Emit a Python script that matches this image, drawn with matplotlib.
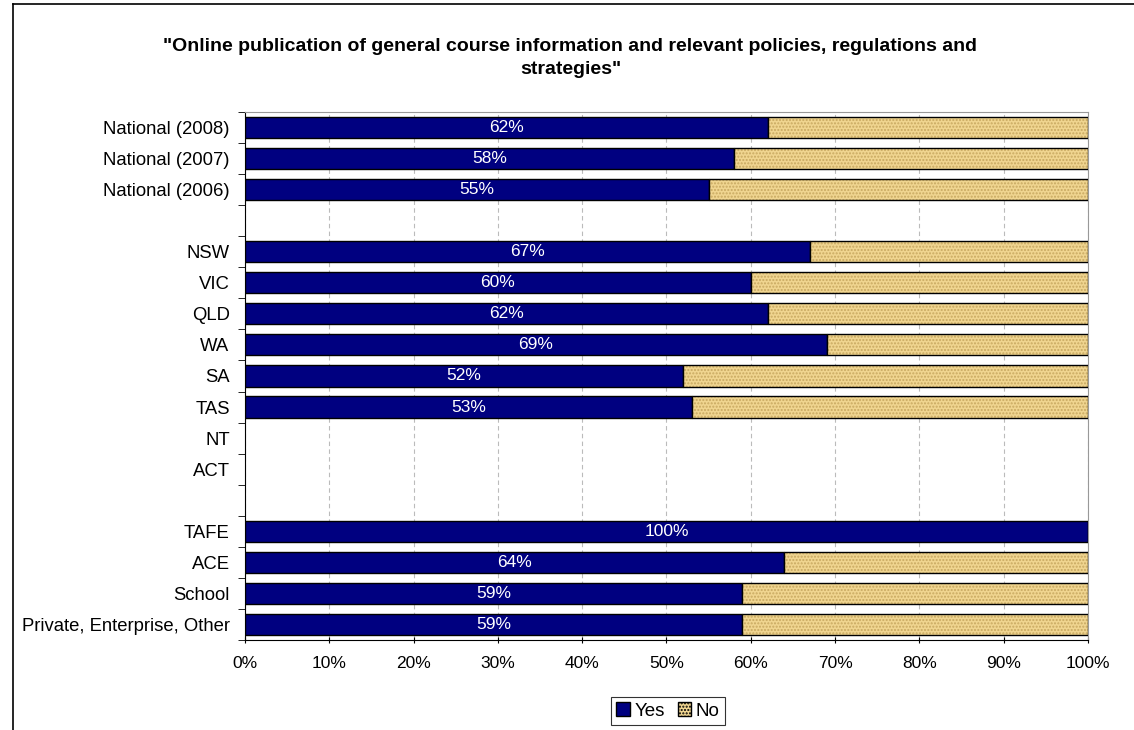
import matplotlib.pyplot as plt
import matplotlib.patches as mpatches
import numpy as np

plt.rcParams['font.family'] = ['Liberation Sans', 'DejaVu Sans']

categories = ['National (2008)', 'National (2007)', 'National (2006)', '',
              'NSW', 'VIC', 'QLD', 'WA', 'SA', 'TAS', 'NT', 'ACT', '',
              'TAFE', 'ACE', 'School', 'Private, Enterprise, Other']
yes = [62, 58, 55, None, 67, 60, 62, 69, 52, 53, None, None, None, 100, 64, 59, 59]

fig = plt.figure(figsize=(11.34, 7.30), dpi=100)
ax = fig.add_axes([0.216, 0.1233, 0.7434, 0.7233])

n = len(categories)
h = 0.68

# only rows with data get bars
rows = np.array([i for i, v in enumerate(yes) if v is not None])
yes_vals = np.array([yes[i] for i in rows], dtype=float)
no_vals = 100 - yes_vals

ax.barh(rows, yes_vals, height=h, color='#000080', edgecolor='black', linewidth=1.0, zorder=3)
# hatched "No" bars: fill with dots, then outline
ax.barh(rows, no_vals, left=yes_vals, height=h, color='#F0D590', edgecolor='#C8A860',
        hatch='.....', linewidth=0, zorder=3)
ax.barh(rows, no_vals, left=yes_vals, height=h, fill=False, edgecolor='black', linewidth=1.0, zorder=4)

for i, v in zip(rows, yes_vals):
    ax.text(v / 2, i, '%d%%' % v, color='white', ha='center', va='center', fontsize=12.5, zorder=5)

ax.set_xlim(0, 100)
ax.set_ylim(n - 0.5, -0.5)
ax.set_xticks(np.arange(0, 101, 10))
ax.set_xticklabels(['%d%%' % t for t in range(0, 101, 10)], fontsize=12.5)
ax.set_yticks(np.arange(n))
ax.set_yticklabels(categories, fontsize=13.3)
ax.tick_params(axis='y', length=0, pad=11)
ax.set_yticks(np.arange(-0.5, n, 1), minor=True)
ax.tick_params(axis='y', which='minor', length=5, direction='out')
ax.tick_params(axis='x', length=5, direction='inout', pad=9)

ax.xaxis.grid(True, color='#BBBBBB', linestyle=(0, (4, 3)), linewidth=0.8, zorder=0)
ax.spines['top'].set_color('#999999')
ax.spines['right'].set_color('#999999')
ax.spines['left'].set_color('black')
ax.spines['bottom'].set_color('black')

fig.text(0.503, 0.920, '"Online publication of general course information and relevant policies, regulations and\nstrategies"',
         ha='center', va='center', fontsize=14, fontweight='bold', linespacing=1.45)

yes_patch = mpatches.Patch(facecolor='#000080', edgecolor='black', label='Yes')
no_patch = mpatches.Patch(facecolor='#F0D590', edgecolor='black', hatch='.....', label='No')
leg = fig.legend(handles=[yes_patch, no_patch], loc='center', bbox_to_anchor=(0.589, 0.026), ncol=2,
                 fontsize=13.5, frameon=True, fancybox=False, handlelength=0.7, handleheight=0.7,
                 handletextpad=0.25, columnspacing=0.7, borderpad=0.3)
leg.get_frame().set_edgecolor('black')
leg.get_frame().set_linewidth(0.8)

# figure border (top and left visible)
fig.add_artist(plt.Line2D([13 / 1134, 13 / 1134], [0, 1 - 4 / 730], color='black', linewidth=1.2,
                          transform=fig.transFigure))
fig.add_artist(plt.Line2D([13 / 1134, 1], [1 - 4 / 730, 1 - 4 / 730], color='black', linewidth=1.2,
                          transform=fig.transFigure))

fig.savefig('out.png', dpi=100)
